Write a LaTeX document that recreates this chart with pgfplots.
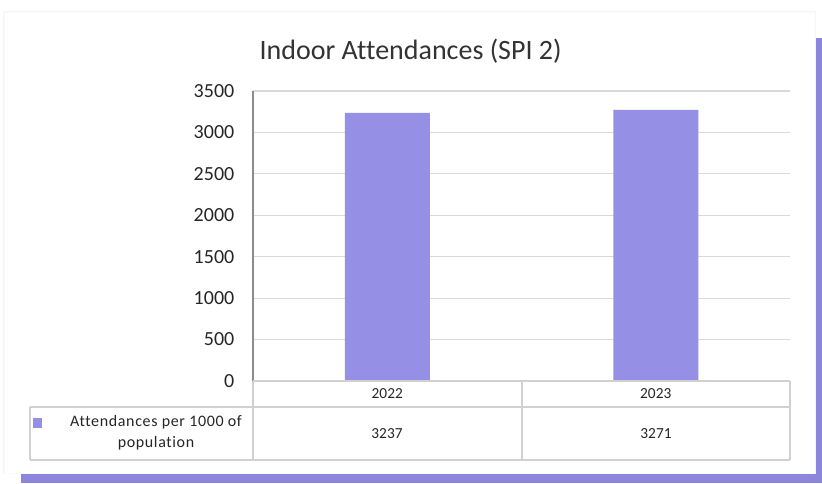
\documentclass[border=0pt]{standalone}
\usepackage{pgfplots}
\pgfplotsset{compat=1.18}
\usepackage{fontspec}
\setmainfont{Carlito}[Ligatures=CommonOff]
\newfontfamily\spaced{Carlito}[Ligatures=CommonOff,LetterSpace=4]
\definecolor{barc}{HTML}{958FE6}
\definecolor{stripe}{HTML}{8B86DC}
\definecolor{gridc}{HTML}{D9D9D9}
\definecolor{tabc}{HTML}{D0D0D0}
\definecolor{txt}{HTML}{262626}
\begin{document}
\begin{tikzpicture}
% page background and frame
\fill[white] (0,0) rectangle (616.5pt,362.25pt);
\fill[stripe] (611.25pt,0) rectangle (616.5pt,333.75pt);
\fill[stripe] (15.75pt,0) rectangle (616.5pt,7.5pt);
\fill[black!4] (2.25pt,6.75pt) rectangle (612pt,354pt);
\fill[black!2] (3pt,7.1pt) rectangle (611.6pt,353.2pt);
\fill[white] (3.75pt,7.5pt) rectangle (611.25pt,352.5pt);
% title
\node[text=black!80, font=\fontsize{21}{24}\selectfont] at (308pt,324pt) {Indoor Attendances (SPI 2)};
\begin{axis}[
  at={(189.75pt,76.5pt)}, anchor=south west,
  scale only axis, width=402.75pt, height=217.5pt,
  ymin=0, ymax=3500, ytick distance=500,
  xmin=-0.5, xmax=1.5, xtick={0,1}, xticklabels={2022,2023},
  ybar, bar width=63.75pt,
  ymajorgrids, grid style={gridc, line width=0.9pt},
  axis line style={draw=none},
  major tick length=0pt,
  /pgf/number format/assume math mode=true,
  /pgf/number format/1000 sep={},
  yticklabel style={anchor=east, xshift=-10.5pt, text=txt, font=\fontsize{15}{17}\selectfont},
  xticklabel style={anchor=center, yshift=-9.75pt, text=txt, font=\fontsize{11.5}{13}\selectfont},
  clip=false,
]
\addplot[fill=barc, draw=none] coordinates {(0,3237) (1,3271)};
\end{axis}
% y axis line
\draw[black!45, line width=0.8pt] (189.75pt,76.5pt) -- (189.75pt,294pt);
% data table
\begin{scope}[tabc, line width=0.9pt]
\draw (189.75pt,76.5pt) -- (592.5pt,76.5pt);
\draw (22.5pt,57pt) -- (592.5pt,57pt);
\draw (22.5pt,17.25pt) -- (592.5pt,17.25pt);
\draw (22.5pt,57pt) -- (22.5pt,17.25pt);
\draw (189.75pt,76.5pt) -- (189.75pt,17.25pt);
\draw (391.5pt,76.5pt) -- (391.5pt,17.25pt);
\draw (592.5pt,76.5pt) -- (592.5pt,17.25pt);
\end{scope}
\fill[barc] (24.75pt,41.25pt) rectangle (31.5pt,48.75pt);
\node[text=txt, align=center, font=\spaced\fontsize{12}{15.75}\selectfont] at (117pt,37.5pt) {Attendances per 1000 of\\population};
\node[text=txt, font=\fontsize{11.5}{13}\selectfont] at (290.25pt,36.75pt) {3237};
\node[text=txt, font=\fontsize{11.5}{13}\selectfont] at (492pt,36.75pt) {3271};
\end{tikzpicture}
\end{document}
